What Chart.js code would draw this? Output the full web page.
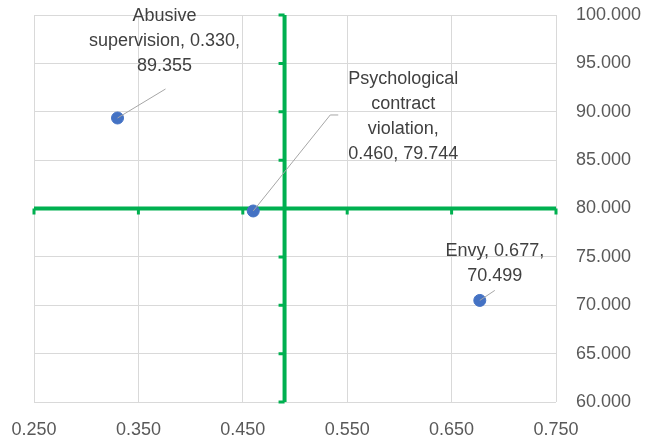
<!DOCTYPE html>
<html>
<head>
<meta charset="utf-8">
<script src="https://cdn.jsdelivr.net/npm/chart.js@4"></script>
<style>
  html, body { margin: 0; padding: 0; background: #fff; }
</style>
</head>
<body>
<canvas id="quadChart" width="656" height="440"></canvas>
<script>
// data
const names = ['Abusive supervision', 'Psychological contract violation', 'Envy'];
const xValues = [0.330, 0.460, 0.677];
const yValues = [89.355, 79.744, 70.499];
const xTicks = [0.25, 0.35, 0.45, 0.55, 0.65, 0.75];
const yTicks = [60, 65, 70, 75, 80, 85, 90, 95, 100];
const crossX = 0.49;   // where the green vertical line sits
const crossY = 80;     // where the green horizontal line sits

const green = '#00b050';
const fontFamily = '"Liberation Sans", Arial, sans-serif';

// words per line and label placement (pixel offsets from the point)
const labelLayout = [
    { lines: [1, 2, 1], dx: 47, dy: -77, leader: [[48, -29]] },
    { lines: [1, 1, 1, 2], dx: 150, dy: -94, leader: [[77, -96], [85, -96]] },
    { lines: [2, 1], dx: 15, dy: -37, leader: [[15, -10]] }
];

// green crossing axes drawn from the chart's own scales
const crossAxes = {
    id: 'crossAxes',
    beforeDatasetsDraw(chart) {
        const ctx = chart.ctx;
        const xs = chart.scales.x;
        const ys = chart.scales.y;
        const area = chart.chartArea;
        const cx = xs.getPixelForValue(crossX);
        const cy = ys.getPixelForValue(crossY);
        ctx.save();
        ctx.strokeStyle = green;
        ctx.lineWidth = 4;
        ctx.beginPath();
        ctx.moveTo(area.left, cy);
        ctx.lineTo(area.right, cy);
        ctx.moveTo(cx, area.top);
        ctx.lineTo(cx, area.bottom);
        ctx.stroke();
        // tick marks
        ctx.lineWidth = 3;
        ctx.beginPath();
        xTicks.forEach(v => {
            const px = xs.getPixelForValue(v);
            ctx.moveTo(px, cy);
            ctx.lineTo(px, cy + 6);
        });
        yTicks.forEach(v => {
            const py = ys.getPixelForValue(v);
            ctx.moveTo(cx, py);
            ctx.lineTo(cx - 6, py);
        });
        ctx.stroke();
        ctx.restore();
    }
};

const pointLabels = {
    id: 'pointLabels',
    afterDatasetsDraw(chart) {
        const ctx = chart.ctx;
        const meta = chart.getDatasetMeta(0);
        ctx.save();
        meta.data.forEach((pt, i) => {
            const lay = labelLayout[i];
            ctx.strokeStyle = '#a6a6a6';
            ctx.lineWidth = 1;
            ctx.beginPath();
            ctx.moveTo(pt.x, pt.y);
            lay.leader.forEach(p => ctx.lineTo(pt.x + p[0], pt.y + p[1]));
            ctx.stroke();

            const words = `${names[i]}, ${xValues[i].toFixed(3)}, ${yValues[i].toFixed(3)}`.split(' ');
            const lines = [];
            let k = 0;
            lay.lines.forEach(n => {
                lines.push(words.slice(k, k + n).join(' '));
                k += n;
            });
            const lineH = 25;
            ctx.font = '18px ' + fontFamily;
            ctx.fillStyle = '#404040';
            ctx.textAlign = 'center';
            ctx.textBaseline = 'middle';
            const top = pt.y + lay.dy - (lines.length - 1) * lineH / 2;
            lines.forEach((t, j) => ctx.fillText(t, pt.x + lay.dx, top + j * lineH));
        });
        ctx.restore();
    }
};

const ctx = document.getElementById('quadChart').getContext('2d');
new Chart(ctx, {
    type: 'scatter',
    data: {
        datasets: [{
            data: xValues.map((x, i) => ({ x: x, y: yValues[i] })),
            backgroundColor: '#4472c4',
            borderColor: '#4472c4',
            borderWidth: 1,
            pointRadius: 6,
            pointHoverRadius: 6
        }]
    },
    options: {
        responsive: false,
        animation: false,
        layout: { padding: { left: 34, top: 15, right: 0, bottom: 0 } },
        plugins: {
            legend: { display: false },
            tooltip: { enabled: false }
        },
        scales: {
            x: {
                type: 'linear',
                position: 'bottom',
                min: 0.25,
                max: 0.75,
                afterBuildTicks: s => { s.ticks = xTicks.map(v => ({ value: v })); },
                afterFit: s => { s.height = 38; },
                ticks: {
                    callback: v => Number(v).toFixed(3),
                    color: '#595959',
                    font: { family: fontFamily, size: 18 },
                    padding: 0,
                    maxRotation: 0,
                    autoSkip: false
                },
                grid: { color: '#d9d9d9', lineWidth: 1, drawTicks: true, tickLength: 17, tickColor: 'rgba(0,0,0,0)' },
                border: { display: false }
            },
            y: {
                type: 'linear',
                position: 'right',
                min: 60,
                max: 100,
                afterBuildTicks: s => { s.ticks = yTicks.map(v => ({ value: v })); },
                afterFit: s => { s.width = 100; },
                ticks: {
                    callback: v => Number(v).toFixed(3),
                    color: '#595959',
                    font: { family: fontFamily, size: 18 },
                    padding: 0
                },
                grid: { color: '#d9d9d9', lineWidth: 1, drawTicks: true, tickLength: 20, tickColor: 'rgba(0,0,0,0)' },
                border: { display: false }
            }
        }
    },
    plugins: [crossAxes, pointLabels]
});
</script>
</body>
</html>
